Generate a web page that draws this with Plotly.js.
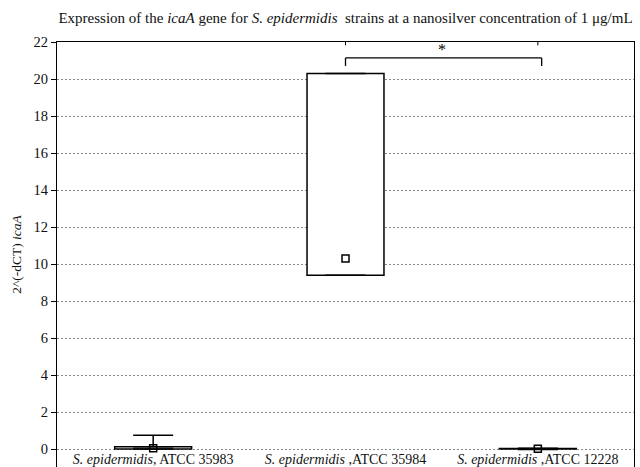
<!DOCTYPE html>
<html>
<head>
<meta charset="utf-8">
<script src="https://cdn.plot.ly/plotly-3.0.1.min.js"></script>
<style>
  html, body { margin: 0; padding: 0; background: #fff; }
  #chart { width: 640px; height: 467px; }
</style>
</head>
<body>
<div id="chart"></div>
<script>
// icaA expression, 2^(-dCT), per strain at 1 µg/mL nanosilver
const strains = [
  '<i>S. epidermidis</i>, ATCC 35983',
  '<i>S. epidermidis</i> ,ATCC 35984',
  '<i>S. epidermidis</i> ,ATCC 12228'
];
const q1      = [0.00, 9.40, 0.00];
const q3      = [0.12, 20.30, 0.03];
const medians = [0.05, 10.30, 0.01];
const lower   = [0.00, 9.40, -0.02];
const upper   = [0.75, 20.30, 0.04];

const serif = 'Liberation Serif';

// boxes: drawn as bars from q1 to q3
const boxes = {
  type: 'bar',
  x: strains,
  base: q1,
  y: q3.map((v, i) => v - q1[i]),
  width: 0.4,
  marker: { color: '#ffffff', line: { color: '#000000', width: 1.5 } },
  hoverinfo: 'skip'
};

// whiskers above and below each box
const upperWhisker = {
  type: 'scatter', mode: 'markers',
  x: strains, y: q3,
  marker: { size: 1, color: 'rgba(0,0,0,0)' },
  error_y: {
    type: 'data', symmetric: false,
    array: upper.map((v, i) => v - q3[i]),
    arrayminus: q3.map(() => 0),
    width: 20, thickness: 1.5, color: '#000000'
  },
  hoverinfo: 'skip'
};
const lowerWhisker = {
  type: 'scatter', mode: 'markers',
  x: strains, y: q1,
  marker: { size: 1, color: 'rgba(0,0,0,0)' },
  error_y: {
    type: 'data', symmetric: false,
    array: q1.map(() => 0),
    arrayminus: q1.map((v, i) => v - lower[i]),
    width: 20, thickness: 1.5, color: '#000000'
  },
  hoverinfo: 'skip'
};

// medians as open squares
const medianPts = {
  type: 'scatter', mode: 'markers',
  x: strains, y: medians,
  marker: { symbol: 'square-open', size: 7, color: '#000000', line: { width: 1.5, color: '#000000' } },
  hoverinfo: 'skip'
};

// significance bracket between ATCC 35984 and ATCC 12228
const bracketY = 21.14, bracketFoot = 20.7;
const shapes = [
  { type: 'line', xref: 'x', yref: 'y', x0: 1, x1: 2.02, y0: bracketY, y1: bracketY, line: { color: '#000', width: 1.3 } },
  { type: 'line', xref: 'x', yref: 'y', x0: 1, x1: 1, y0: bracketY, y1: bracketFoot, line: { color: '#000', width: 1.3 } },
  { type: 'line', xref: 'x', yref: 'y', x0: 2.02, x1: 2.02, y0: bracketY, y1: bracketFoot, line: { color: '#000', width: 1.3 } },
  { type: 'line', xref: 'x', yref: 'y', x0: 1, x1: 1, y0: 22, y1: 21.82, line: { color: '#000', width: 1 } },
  { type: 'line', xref: 'x', yref: 'y', x0: 2, x1: 2, y0: 22, y1: 21.82, line: { color: '#000', width: 1 } }
];

const layout = {
  width: 640, height: 467,
  margin: { l: 57, r: 6, t: 42, b: 0 },
  paper_bgcolor: '#ffffff', plot_bgcolor: '#ffffff',
  showlegend: false,
  font: { family: serif, size: 14, color: '#000' },
  title: {
    text: 'Expression of the <i>icaA</i> gene for <i>S. epidermidis</i>  strains at a nanosilver concentration of 1 μg/mL',
    font: { family: serif, size: 15, color: '#111' },
    xref: 'paper', x: 0.5, xanchor: 'center',
    yref: 'container', y: 0.962, yanchor: 'middle'
  },
  xaxis: {
    type: 'category',
    categoryorder: 'array', categoryarray: strains,
    range: [-0.5, 2.5],
    showline: true, linecolor: '#000', linewidth: 1, mirror: true,
    ticks: '', showgrid: false, zeroline: false,
    ticklabelposition: 'inside',
    tickfont: { family: serif, size: 14, color: '#111' }
  },
  yaxis: {
    range: [-0.97, 22],
    tick0: 0, dtick: 2,
    showline: true, linecolor: '#000', linewidth: 1, mirror: true,
    ticks: 'outside', ticklen: 5, tickcolor: '#000', tickwidth: 1,
    showgrid: true, gridcolor: '#8a8a8a', griddash: '2px,2px', gridwidth: 1,
    zeroline: false,
    tickfont: { family: serif, size: 14.5, color: '#111' },
    title: { text: '2^(-dCT) <i>icaA</i>', font: { family: serif, size: 13.5, color: '#111' }, standoff: 8 }
  },
  yaxis2: {
    overlaying: 'y', side: 'right', anchor: 'x',
    range: [-0.97, 22], tick0: 0, dtick: 2,
    ticks: 'inside', ticklen: 3, tickcolor: '#000',
    showticklabels: false, showgrid: false, zeroline: false, showline: false
  },
  bargap: 0,
  shapes: shapes,
  annotations: [
    { xref: 'x', yref: 'y', x: 1.5, y: 21.62, text: '*', showarrow: false,
      font: { family: serif, size: 16, color: '#000' } }
  ]
};

Plotly.newPlot('chart', [boxes, upperWhisker, lowerWhisker, medianPts], layout,
  { displayModeBar: false, staticPlot: true });
</script>
</body>
</html>
